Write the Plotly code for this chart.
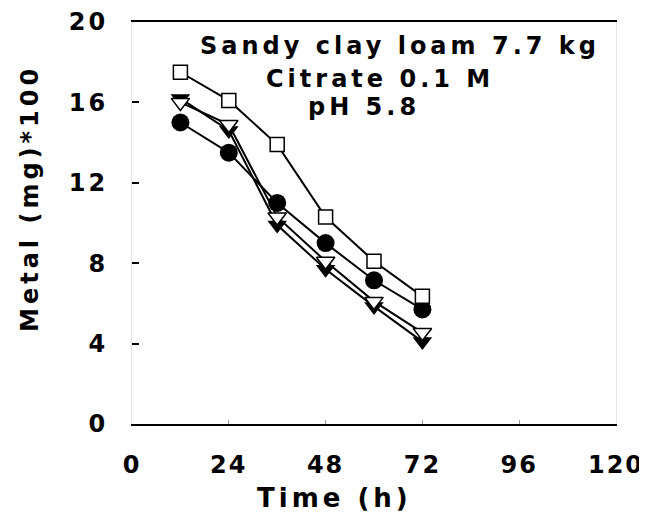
import plotly.graph_objects as go

time_h = [12, 24, 36, 48, 60, 72]

series_square = [17.5, 16.1, 13.9, 10.3, 8.1, 6.35]
series_circle = [15.0, 13.5, 11.0, 9.0, 7.15, 5.7]
series_tri_filled = [16.2, 14.6, 9.9, 7.7, 5.85, 4.1]
series_tri_open = [16.0, 14.9, 10.3, 8.1, 6.1, 4.55]

x_ticks = [0, 24, 48, 72, 96, 120]
y_ticks = [0, 4, 8, 12, 16, 20]

title_lines = ["Sandy clay loam 7.7 kg", "Citrate 0.1 M", "pH 5.8"]
x_title = "Time (h)"
y_title = "Metal (mg)*100"

FONT = "DejaVu Sans"
W, H = 647, 518
L, R, T, B = 124, 39, 14, 102
PW, PH = W - L - R, H - T - B


def px_to_paper(px, py):
    return (px - L) / PW, (H - B - py) / PH


fig = go.Figure()

fig.add_trace(go.Scatter(
    x=time_h, y=series_circle, mode="lines+markers",
    line=dict(color="black", width=2),
    marker=dict(symbol="circle", size=18, color="black"),
))
fig.add_trace(go.Scatter(
    x=time_h, y=series_tri_filled, mode="lines+markers",
    line=dict(color="black", width=2),
    marker=dict(symbol="triangle-down", size=17, color="black"),
))
fig.add_trace(go.Scatter(
    x=time_h, y=series_tri_open, mode="lines+markers",
    line=dict(color="black", width=2),
    marker=dict(symbol="triangle-down", size=16, color="white",
                line=dict(color="black", width=1.5)),
))
fig.add_trace(go.Scatter(
    x=time_h, y=series_square, mode="lines+markers",
    line=dict(color="black", width=2),
    marker=dict(symbol="square", size=14, color="white",
                line=dict(color="black", width=1.5)),
))

ann_px = [(392, 38), (372, 71), (356, 99)]
for txt, (px, py) in zip(title_lines, ann_px):
    ax, ay = px_to_paper(px, py)
    fig.add_annotation(x=ax, y=ay, xref="paper", yref="paper", text=f"<b>{txt}</b>",
                       showarrow=False, font=dict(family=FONT, size=24, color="black"),
                       xanchor="center", yanchor="middle")

ax, ay = px_to_paper(326, 490)
fig.add_annotation(x=ax, y=ay, xref="paper", yref="paper", text=f"<b>{x_title}</b>",
                   showarrow=False, font=dict(family=FONT, size=26, color="black"),
                   xanchor="center", yanchor="middle")
ax, ay = px_to_paper(22, 191)
fig.add_annotation(x=ax, y=ay, xref="paper", yref="paper", text=f"<b>{y_title}</b>",
                   showarrow=False, textangle=-90,
                   font=dict(family=FONT, size=24, color="black"),
                   xanchor="center", yanchor="middle")

fig.update_layout(
    width=W, height=H,
    margin=dict(l=L, r=R, t=T, b=B, autoexpand=False),
    plot_bgcolor="white", paper_bgcolor="white",
    showlegend=False,
    font=dict(family=FONT, color="black"),
)
fig.update_xaxes(
    range=[0, 120], tickvals=x_ticks, ticktext=[str(v) for v in x_ticks],
    showgrid=False, zeroline=False, automargin=False,
    showline=True, linecolor="black", linewidth=2, mirror=True,
    ticks="inside", ticklen=4, tickcolor="#999", tickwidth=1,
    tickfont=dict(family=FONT, size=24, color="black", weight="bold"),
    ticklabelstandoff=18,
)
fig.update_yaxes(
    range=[0, 20], tickvals=y_ticks, ticktext=[str(v) for v in y_ticks],
    showgrid=False, zeroline=False, automargin=False,
    showline=True, linecolor="#e4e4e4", linewidth=1, mirror=True,
    ticks="inside", ticklen=7, tickcolor="black", tickwidth=2,
    tickfont=dict(family=FONT, size=24, color="black", weight="bold"),
    ticklabelstandoff=18,
)

css = (
    ".xtick text { letter-spacing: 2px; }"
    ".ytick text { letter-spacing: 3px; }"
    ".annotation-text { letter-spacing: 4px; }"
)
post = ("var s=document.createElement('style');s.textContent=" + repr(css) +
        ";document.head.appendChild(s);")

fig.write_html("out.html", post_script=post)
